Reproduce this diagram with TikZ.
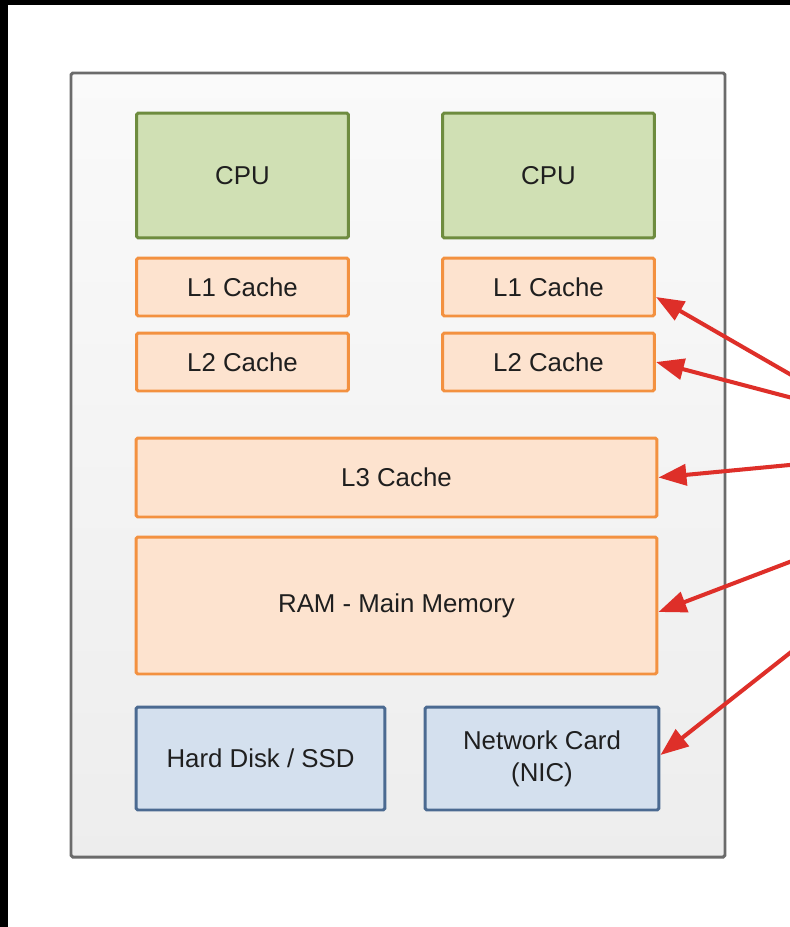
\documentclass[tikz,border=0pt]{standalone}
\usepackage{fontspec}
\setmainfont{Liberation Sans}
\usetikzlibrary{positioning}
\usetikzlibrary{arrows.meta}
\definecolor{cpufill}{HTML}{D0E0B4}
\definecolor{cpuline}{HTML}{6E8C3F}
\definecolor{memfill}{HTML}{FDE3CF}
\definecolor{memline}{HTML}{F39140}
\definecolor{iofill}{HTML}{D4E0EE}
\definecolor{ioline}{HTML}{4B6A91}
\definecolor{arrowred}{HTML}{DE2F29}
\definecolor{frameline}{HTML}{6B6B6B}
\tikzset{
    hwbox/.style = {rectangle, rounded corners=1pt, line width=1.7pt, align=center, inner sep=0pt,
                    font=\fontsize{14.7}{18.2}\selectfont, text=black!88},
    cpubox/.style = {hwbox, draw=cpuline, fill=cpufill},
    cachebox/.style = {hwbox, draw=memline, fill=memfill},
    iobox/.style = {hwbox, draw=ioline, fill=iofill},
    pointer/.style = {-{Triangle[length=0.56cm,width=0.42cm]}, line width=2.3pt, arrowred}
}

\begin{document}
\begin{tikzpicture}[x=0.02cm, y=-0.02cm]
  \clip (0,0) rectangle (790,927);
  \fill[white] (0,0) rectangle (790,927);
  \fill[black] (0,0) rectangle (790,5);
  \fill[black] (0,0) rectangle (8,927);
  % machine frame
  \shade[top color=black!2, bottom color=black!7] (71,73) rectangle (725,857);
  \draw[frameline, line width=1.7pt, rounded corners=1pt] (71,73) rectangle (725,857);
  % cores
  \node[cpubox, minimum width=4.24cm, minimum height=2.5cm] (cpua) at (242.5,175.5) {CPU};
  \node[cpubox, minimum width=4.24cm, minimum height=2.5cm] (cpub) at (548.5,175.5) {CPU};
  \node[cachebox, minimum width=4.24cm, minimum height=1.16cm] (l1a) at (242.5,287) {L1 Cache};
  \node[cachebox, minimum width=4.24cm, minimum height=1.16cm] (l1b) at (548.5,287) {L1 Cache};
  \node[cachebox, minimum width=4.24cm, minimum height=1.16cm] (l2a) at (242.5,362) {L2 Cache};
  \node[cachebox, minimum width=4.24cm, minimum height=1.16cm] (l2b) at (548.5,362) {L2 Cache};
  % shared levels
  \node[cachebox, minimum width=10.42cm, minimum height=1.58cm] (l3) at (396.5,477.5) {L3 Cache};
  \node[cachebox, minimum width=10.42cm, minimum height=2.74cm] (ram) at (396.5,605.5) {RAM - Main Memory};
  \node[iobox, minimum width=4.98cm, minimum height=2.06cm] (disk) at (260.5,758.5) {Hard Disk / SSD};
  \node[iobox, minimum width=4.68cm, minimum height=2.06cm] (nic) at (542,758.5) {Network Card\\(NIC)};
  % pointers from the right
  \coordinate (pa) at (800,380);
  \coordinate (pb) at (800,400);
  \coordinate (pc) at (800,464);
  \coordinate (pd) at (800,558);
  \coordinate (pe) at (800,645);
  \draw[pointer] (pa) -- ([yshift=-0.2cm]l1b.east);
  \draw[pointer] (pb) -- (l2b.east);
  \draw[pointer] (pc) -- (l3.east);
  \draw[pointer] (pd) -- ([yshift=-0.13cm]ram.east);
  \draw[pointer] (pe) -- ([yshift=0.07cm]nic.east);
\end{tikzpicture}
\end{document}
